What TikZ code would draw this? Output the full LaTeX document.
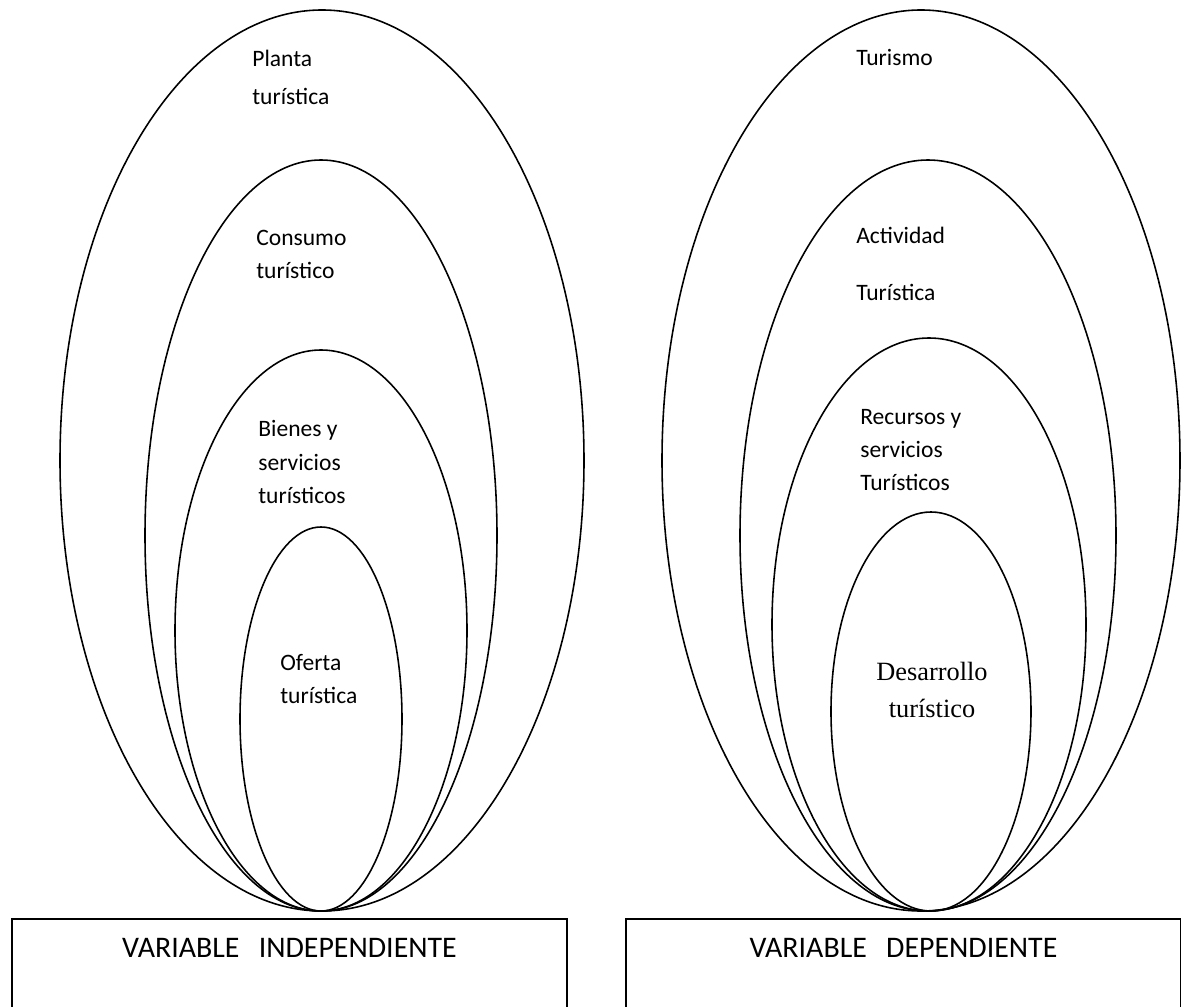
\documentclass[tikz,border=0pt]{standalone}
\usepackage{fontspec}
\setmainfont{Carlito}
\newfontfamily\serifcap{Liberation Serif}
\usepackage{tikz}

\begin{document}
\begin{tikzpicture}[x=0.02cm, y=-0.02cm,
    ring/.style={draw, line width=0.9pt},
    ringtext/.style={anchor=west, align=left, inner sep=0pt,
        font=\fontsize{13.4}{18.8}\selectfont},
    vartext/.style={draw, line width=1.2pt, anchor=north west, align=center,
        minimum width=11.1cm, text width=10.5cm, inner xsep=0.3cm,
        text height=0pt, text depth=1.6cm, inner ysep=0.76cm,
        font=\fontsize{17}{20}\selectfont}]
    \useasboundingbox (0,0) rectangle (1181,1007);
    \clip (0,0) rectangle (1181,1007);

    % nested ellipses, all touching at the bottom
    \foreach \cx/\cy/\rx/\ry in {322/460.5/262/450.5, 321/535.5/176/375.5,
        321/630.5/146/280.5, 321/719/81/192,
        921/460.5/259/450.5, 928/535.5/188/375.5,
        929/624.5/157/286.5, 931/711.5/100/199.5}
        \draw[ring] (\cx,\cy) ellipse [x radius=\rx, y radius=\ry];

    % independiente
    \node[ringtext] (planta) at (252,77) {Planta\\[0.1cm]turística};
    \node[ringtext] (consumo) at (256,254) {Consumo\\turístico};
    \node[ringtext] (bienes) at (258,462) {Bienes y\\servicios\\turísticos};
    \node[ringtext] (oferta) at (280,679) {Oferta\\turística};

    % dependiente
    \node[ringtext] (turismo) at (856,57) {Turismo};
    \node[ringtext] (actividad) at (856,264) {Actividad\\[0.48cm]Turística};
    \node[ringtext] (recursos) at (860,450) {Recursos y\\servicios\\Turísticos};
    \node[align=center, inner sep=0pt, font=\serifcap\fontsize{15}{21}\selectfont]
        (desarrollo) at (932,690) {Desarrollo\\turístico};

    \node[vartext] (indep) at (11,918) {VARIABLE\hspace{11pt}INDEPENDIENTE};
    \node[vartext] (dep) at (625,918) {VARIABLE\hspace{11pt}DEPENDIENTE};
\end{tikzpicture}
\end{document}
